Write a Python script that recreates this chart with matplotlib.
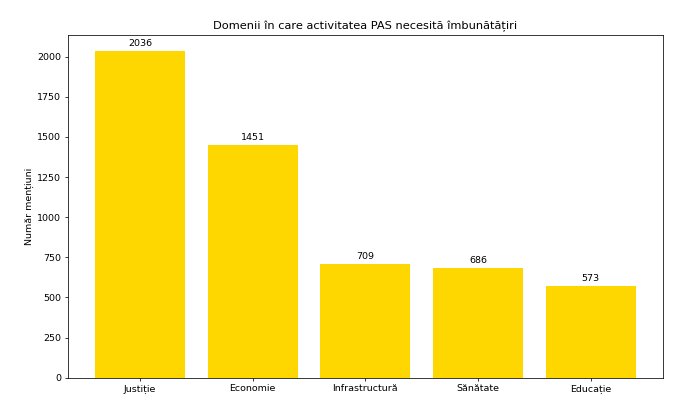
import matplotlib
matplotlib.use('Agg')
import matplotlib.pyplot as plt

# Date
domenii = ['Justiție', 'Economie', 'Infrastructură', 'Sănătate', 'Educație']
mentiuni = [2036, 1451, 709, 686, 573]

fig, ax = plt.subplots(figsize=(10, 407 / 68.4), dpi=68.4)
bars = ax.bar(domenii, mentiuni, color='gold')
ax.bar_label(bars, padding=3)
ax.set_title('Domenii în care activitatea PAS necesită îmbunătățiri')
ax.set_ylabel('Număr mențiuni')
plt.subplots_adjust(left=0.0994, right=0.969, top=0.915, bottom=0.072)
plt.savefig('out.png', dpi=68.4)
